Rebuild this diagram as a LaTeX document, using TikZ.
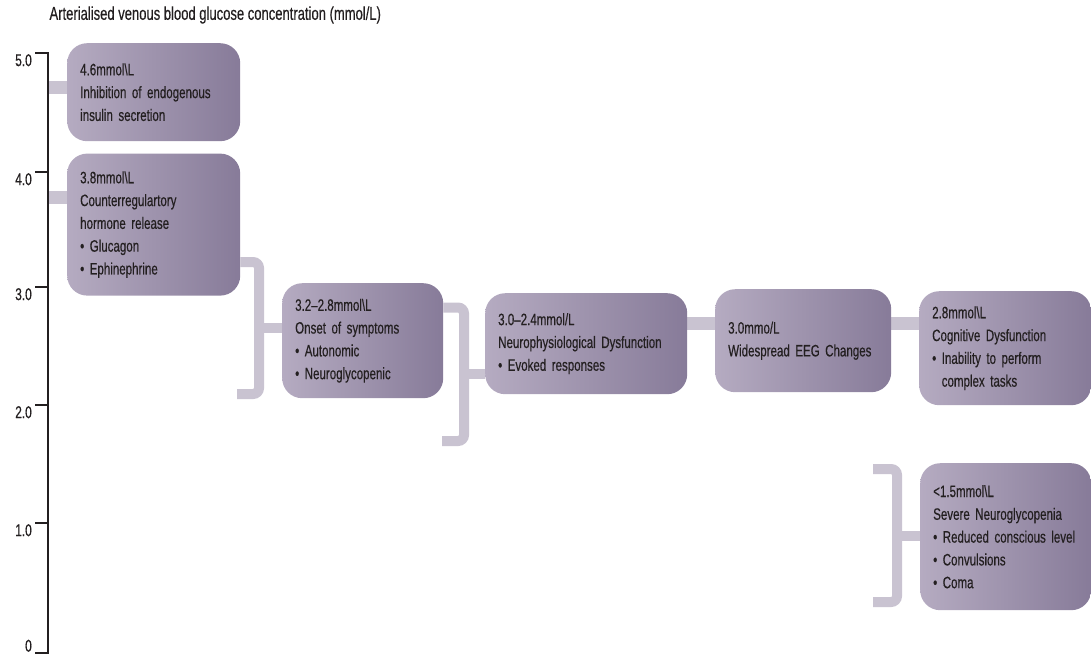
\documentclass[tikz,border=0pt]{standalone}
\usepackage{fontspec}
\setmainfont[FakeStretch=0.7,FakeBold=0.4]{Liberation Sans}
\usepackage{tikz}
\usetikzlibrary{positioning}
\usetikzlibrary{backgrounds}
\definecolor{boxlight}{HTML}{B5ABC1}
\definecolor{boxdark}{HTML}{877B99}
\definecolor{barcol}{HTML}{C9C3D1}
\definecolor{inkcol}{HTML}{231F20}
\tikzstyle{stage} = [rounded corners=20pt,left color=boxlight,right color=boxdark,align=left,inner xsep=13pt,anchor=north west,text=inkcol,font=\fontsize{16.5}{22.8}\selectfont]
\tikzstyle{bar} = [barcol,line width=13pt]
\tikzstyle{brace} = [barcol,line width=10pt,rounded corners=6pt]
\tikzstyle{axis} = [inkcol,line width=2.5pt]
\tikzstyle{tick label} = [inner sep=1pt,text=inkcol,font=\fontsize{17}{18}\selectfont]
\newcommand{\itm}{\textbullet\ }

\begin{document}
\begin{tikzpicture}[x=1pt,y=-1pt]
	\useasboundingbox (0,0) rectangle (1091,656);
	\node[anchor=west,text=inkcol,font=\fontsize{18.6}{20}\selectfont] (title) at (46,15) {Arterialised venous blood glucose concentration (mmol/L)};
	\draw[axis] (35,53) -- (48,53) -- (48,653) -- (35,653);
	\foreach \y/\v in {53/5.0,172/4.0,287/3.0,405/2.0,523/1.0}{
		\draw[axis] (35,\y) -- (48,\y);
		\node[tick label,anchor=north east] at (33,\y) {\v};
	}
	\node[tick label,anchor=south east] (zero) at (33,653) {0};
	\node[stage,text width=147,minimum height=98] (inhib) at (67,43) {4.6mmol\textbackslash L\\Inhibition of endogenous\\insulin secretion};
	\node[stage,text width=147,minimum height=142,below=12pt of inhib.south west,anchor=north west] (counter) {3.8mmol\textbackslash L\\Counterregulartory\\hormone release\\\itm Glucagon\\\itm Ephinephrine};
	\node[stage,text width=135,minimum height=115] (onset) at (282,283) {3.2--2.8mmol\textbackslash L\\Onset of symptoms\\\itm Autonomic\\\itm Neuroglycopenic};
	\node[stage,text width=176,minimum height=101] (neuro) at (485,293) {3.0--2.4mmol/L\\Neurophysiological Dysfunction\\\itm Evoked responses};
	\node[stage,text width=150,minimum height=103] (eeg) at (715,289) {3.0mmo/L\\Widespread EEG Changes};
	\node[stage,text width=146,minimum height=114] (cognit) at (919,291) {2.8mmol\textbackslash L\\Cognitive Dysfunction\\\itm Inability to perform\\\phantom{\itm}complex tasks};
	\node[stage,text width=145,minimum height=147] (severe) at (920,463) {<1.5mmol\textbackslash L\\Severe Neuroglycopenia\\\itm Reduced conscious level\\\itm Convulsions\\\itm Coma};
	\coordinate (a1) at (48,87);
	\coordinate (a2) at (48,197);
	\coordinate (k1) at (259,262);
	\coordinate (k1m) at (259,328);
	\coordinate (k2) at (259,394);
	\coordinate (k3) at (464,307.5);
	\coordinate (k3m) at (464,374);
	\coordinate (k4) at (464,441);
	\coordinate (k5) at (897,469);
	\coordinate (k5m) at (897,536);
	\coordinate (k6) at (897,602);
	\coordinate (m1) at (0,323.5);
	\begin{scope}[on background layer]
		\draw[bar] (a1) -- (a1 -| inhib.west);
		\draw[bar] (a2) -- (a2 -| counter.west);
		\draw[brace] (counter.east |- k1) -- (k1) -- (k2) -- ++(-22,0);
		\draw[brace] (k1m) -- (k1m -| onset.west);
		\draw[brace] (onset.east |- k3) -- (k3) -- (k4) -- ++(-22,0);
		\draw[brace] (k3m) -- (k3m -| neuro.west);
		\draw[bar] (neuro.east |- m1) -- (eeg.west |- m1);
		\draw[bar] (eeg.east |- m1) -- (cognit.west |- m1);
		\draw[brace] ([xshift=-24pt]k5) -- (k5) -- (k6) -- ++(-24,0);
		\draw[brace] (k5m) -- (k5m -| severe.west);
	\end{scope}
\end{tikzpicture}
\end{document}
